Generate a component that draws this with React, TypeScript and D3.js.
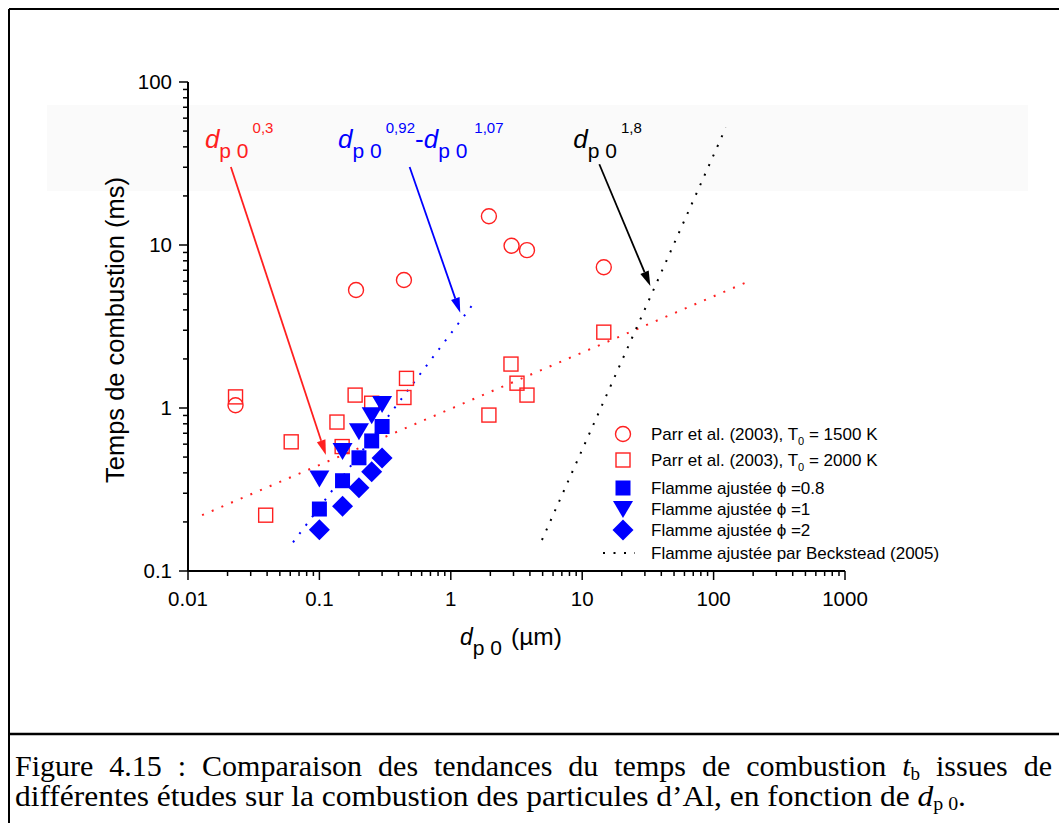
import React, { useLayoutEffect, useRef } from "react";
import * as d3 from "d3";

// ---- data ----
const circleD = [0.023, 0.19, 0.44, 1.95, 2.9, 3.8, 14.6];
const circleT = [1.04, 5.3, 6.1, 15, 9.9, 9.3, 7.3];

const openSqD = [0.023, 0.061, 0.039, 0.136, 0.187, 0.149, 0.25, 0.44, 0.46, 1.95, 2.87, 3.19, 3.8, 14.6];
const openSqT = [1.17, 0.62, 0.22, 0.82, 1.2, 0.58, 1.07, 1.16, 1.52, 0.905, 1.86, 1.42, 1.2, 2.92];

const flameD = [0.1, 0.15, 0.2, 0.25, 0.3];
const phi08T = [0.24, 0.358, 0.495, 0.628, 0.77];
const phi1T = [0.38, 0.56, 0.74, 0.93, 1.09];
const phi2T = [0.179, 0.25, 0.324, 0.407, 0.493];

// trend lines (endpoints)
const redTrendD = [0.0128, 173];
const redTrendT = [0.22, 5.85];
const blueTrendD = [0.063, 1.48];
const blueTrendT = [0.15, 4.35];
const blackTrendD = [4.94, 124];
const blackTrendT = [0.155, 52.6];

// arrows [fromD, fromT, toD, toT]
const redArrow = [0.0212, 30.1, 0.112, 0.515];
const blueArrow = [0.486, 30.1, 1.18, 3.84];
const blackArrow = [13.5, 31.3, 33, 5.6];

const xTickLabels = ["0.01", "0.1", "1", "10", "100", "1000"];
const yTickLabels = ["0.1", "1", "10", "100"];

const legendLabels = [
  "Parr et al. (2003), T",
  "Parr et al. (2003), T",
  "Flamme ajustée \u03d5 =0.8",
  "Flamme ajustée \u03d5 =1",
  "Flamme ajustée \u03d5 =2",
  "Flamme ajustée par Beckstead (2005)",
];

const RED = "#ff2020";
const BLUE = "#0000ff";
const FONT = "Arial, 'Liberation Sans', Helvetica, sans-serif";

const x = d3.scaleLog().domain([0.01, 1000]).range([188, 845]);
const y = d3.scaleLog().domain([0.1, 100]).range([571, 82]);

function minorTicks(lo: number, hi: number) {
  const out: number[] = [];
  for (let e = Math.log10(lo); e < Math.log10(hi); e++) {
    for (let m = 2; m <= 9; m++) out.push(m * Math.pow(10, e));
  }
  return out;
}

const line = d3.line<[number, number]>().x((d) => x(d[0])).y((d) => y(d[1]));

function Arrow({ a, color }: { a: number[]; color: string }) {
  const x1 = x(a[0]), y1 = y(a[1]), x2 = x(a[2]), y2 = y(a[3]);
  const ang = Math.atan2(y2 - y1, x2 - x1);
  const L = 15, W = 4.5;
  const bx = x2 - L * Math.cos(ang), by = y2 - L * Math.sin(ang);
  const p1 = [bx + W * Math.sin(ang), by - W * Math.cos(ang)];
  const p2 = [bx - W * Math.sin(ang), by + W * Math.cos(ang)];
  return (
    <g>
      <line x1={x1} y1={y1} x2={bx} y2={by} stroke={color} strokeWidth={1.8} />
      <path d={`M${x2},${y2}L${p1[0]},${p1[1]}L${p2[0]},${p2[1]}Z`} fill={color} />
    </g>
  );
}

const sym = {
  circle: (cx: number, cy: number, k: string) => (
    <circle key={k} cx={cx} cy={cy} r={7.5} fill="none" stroke={RED} strokeWidth={1.4} />
  ),
  openSq: (cx: number, cy: number, k: string) => (
    <rect key={k} x={cx - 7} y={cy - 7} width={14} height={14} fill="none" stroke={RED} strokeWidth={1.4} />
  ),
  fillSq: (cx: number, cy: number, k: string) => (
    <rect key={k} x={cx - 7.5} y={cy - 7.5} width={15} height={15} fill={BLUE} />
  ),
  tri: (cx: number, cy: number, k: string) => (
    <path key={k} d={`M${cx - 10},${cy - 6}L${cx + 10},${cy - 6}L${cx},${cy + 11}Z`} fill={BLUE} />
  ),
  diamond: (cx: number, cy: number, k: string) => (
    <path key={k} d={`M${cx},${cy - 10.5}L${cx + 10.5},${cy}L${cx},${cy + 10.5}L${cx - 10.5},${cy}Z`} fill={BLUE} />
  ),
};

export default function App() {
  const majorX = [0.01, 0.1, 1, 10, 100, 1000];
  const majorY = [0.1, 1, 10, 100];
  const mx = minorTicks(0.01, 1000);
  const my = minorTicks(0.1, 100);
  const dash = "2 8.5";

  const legendY = [434, 460, 488, 509, 530, 553];
  const lx = 623;

  const cap1 = useRef<SVGTextElement>(null);
  useLayoutEffect(() => {
    const el = cap1.current;
    if (!el) return;
    el.style.wordSpacing = "0px";
    const len = el.getComputedTextLength();
    const spaces = 12;
    const extra = (1037 - len) / spaces;
    el.style.wordSpacing = `${extra}px`;
  }, []);

  return (
    <svg
      width={1059}
      height={823}
      style={{ position: "absolute", left: 0, top: 0, background: "#fff" }}
      fontFamily={FONT}
    >
      <rect x={0} y={0} width={1059} height={823} fill="#fff" />
      {/* faint band */}
      <rect x={47} y={105} width={981} height={86} fill="#fafafa" />
      {/* frame */}
      <line x1={9} y1={9} x2={1059} y2={9} stroke="#000" strokeWidth={2} />
      <line x1={9} y1={9} x2={9} y2={823} stroke="#000" strokeWidth={2} />
      <line x1={9} y1={734} x2={1059} y2={734} stroke="#000" strokeWidth={2.5} />

      {/* trend lines */}
      <path d={line(redTrendD.map((d, i) => [d, redTrendT[i]]) as any) || ""} stroke={RED} strokeWidth={2} strokeDasharray={dash} fill="none" />
      <path d={line(blueTrendD.map((d, i) => [d, blueTrendT[i]]) as any) || ""} stroke={BLUE} strokeWidth={2} strokeDasharray={dash} fill="none" />
      <path d={line(blackTrendD.map((d, i) => [d, blackTrendT[i]]) as any) || ""} stroke="#000" strokeWidth={2} strokeDasharray={dash} fill="none" />

      {/* markers */}
      {circleD.map((d, i) => sym.circle(x(d), y(circleT[i]), "c" + i))}
      {openSqD.map((d, i) => sym.openSq(x(d), y(openSqT[i]), "s" + i))}
      {flameD.map((d, i) => sym.fillSq(x(d), y(phi08T[i]), "f" + i))}
      {flameD.map((d, i) => sym.tri(x(d), y(phi1T[i]), "t" + i))}
      {flameD.map((d, i) => sym.diamond(x(d), y(phi2T[i]), "d" + i))}

      {/* arrows */}
      <Arrow a={redArrow} color={RED} />
      <Arrow a={blueArrow} color={BLUE} />
      <Arrow a={blackArrow} color="#000" />

      {/* annotation labels */}
      <text x={x(redArrow[0]) - 26} y={148} fill={RED}>
        <tspan fontStyle="italic" fontSize={26}>d</tspan>
        <tspan fontSize={21} dy={9.5}>p 0</tspan>
        <tspan fontSize={15} dx={4} dy={-24.5}>0,3</tspan>
      </text>
      <text x={x(blueArrow[0]) - 71.5} y={148} fill={BLUE}>
        <tspan fontStyle="italic" fontSize={26}>d</tspan>
        <tspan fontSize={21} dy={9.5}>p 0</tspan>
        <tspan fontSize={15} dx={4} dy={-24.5}>0,92</tspan>
        <tspan fontSize={26} dy={15}>-</tspan>
        <tspan fontStyle="italic" fontSize={26}>d</tspan>
        <tspan fontSize={21} dy={9.5}>p 0</tspan>
        <tspan fontSize={15} dx={7} dy={-24.5}>1,07</tspan>
      </text>
      <text x={x(blackArrow[0]) - 26} y={148} fill="#000">
        <tspan fontStyle="italic" fontSize={26}>d</tspan>
        <tspan fontSize={21} dy={9.5}>p 0</tspan>
        <tspan fontSize={15} dx={4} dy={-24.5}>1,8</tspan>
      </text>

      {/* axes */}
      <line x1={188} y1={571} x2={845} y2={571} stroke="#000" strokeWidth={2} />
      <line x1={188} y1={82} x2={188} y2={571} stroke="#000" strokeWidth={2} />
      {majorX.map((v) => (
        <line key={"mx" + v} x1={x(v)} x2={x(v)} y1={571} y2={580} stroke="#000" strokeWidth={1.5} />
      ))}
      {mx.map((v) => (
        <line key={"nx" + v} x1={x(v)} x2={x(v)} y1={571} y2={576} stroke="#000" strokeWidth={1.5} />
      ))}
      {majorY.map((v) => (
        <line key={"my" + v} x1={179} x2={188} y1={y(v)} y2={y(v)} stroke="#000" strokeWidth={1.5} />
      ))}
      {my.map((v) => (
        <line key={"ny" + v} x1={183} x2={188} y1={y(v)} y2={y(v)} stroke="#000" strokeWidth={1.5} />
      ))}
      {majorX.map((v, i) => (
        <text key={"lx" + v} x={x(v)} y={606} fontSize={20.5} textAnchor="middle">{xTickLabels[i]}</text>
      ))}
      {majorY.map((v, i) => (
        <text key={"ly" + v} x={172} y={y(v) + 7} fontSize={20.5} textAnchor="end">{yTickLabels[i]}</text>
      ))}

      {/* axis titles */}
      <text transform="translate(124,330) rotate(-90)" fontSize={25.5} textAnchor="middle">
        Temps de combustion (ms)
      </text>
      <text x={460} y={645}>
        <tspan fontStyle="italic" fontSize={23}>d</tspan>
        <tspan fontSize={21} dy={10}>p 0</tspan>
        <tspan fontSize={24.5} dx={9} dy={-10}>(µm)</tspan>
      </text>

      {/* legend */}
      {sym.circle(lx, legendY[0], "lg0")}
      {sym.openSq(lx, legendY[1], "lg1")}
      {sym.fillSq(lx, legendY[2], "lg2")}
      {sym.tri(lx, legendY[3] - 2, "lg3")}
      {sym.diamond(lx, legendY[4], "lg4")}
      <line x1={lx - 20} x2={lx + 12} y1={legendY[5]} y2={legendY[5]} stroke="#000" strokeWidth={2} strokeDasharray="2 8.5" />
      <text x={651} y={legendY[0] + 6} fontSize={17}>
        {legendLabels[0]}<tspan fontSize={11} dy={5}>0</tspan><tspan dy={-5}> = 1500 K</tspan>
      </text>
      <text x={651} y={legendY[1] + 6} fontSize={17}>
        {legendLabels[1]}<tspan fontSize={11} dy={5}>0</tspan><tspan dy={-5}> = 2000 K</tspan>
      </text>
      {legendLabels.slice(2).map((l, i) => (
        <text key={"lg" + i} x={651} y={legendY[i + 2] + 6} fontSize={17}>{l}</text>
      ))}

      {/* caption */}
      <g fontFamily="'Liberation Serif', 'Times New Roman', serif" fontSize={30}>
        <text ref={cap1} x={15} y={776}>
          Figure 4.15 : Comparaison des tendances du temps de combustion <tspan fontStyle="italic">t</tspan><tspan fontSize={19} dy={4}>b</tspan><tspan dy={-4}> issues de</tspan>
        </text>
        <text x={15} y={806} textLength={951} lengthAdjust="spacingAndGlyphs">
          différentes études sur la combustion des particules d’Al, en fonction de <tspan fontStyle="italic">d</tspan><tspan fontSize={19} dy={4}>p 0</tspan><tspan dy={-4}>.</tspan>
        </text>
      </g>
    </svg>
  );
}
